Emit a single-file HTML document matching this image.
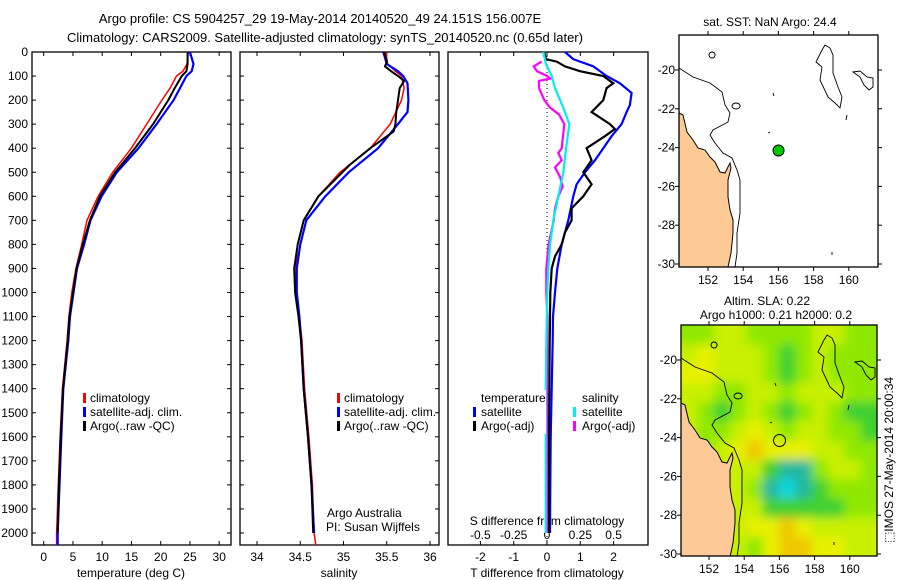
<!DOCTYPE html>
<html><head><meta charset="utf-8"><style>
body{margin:0;background:#fff;width:900px;height:580px;overflow:hidden}
svg{display:block;font-family:"Liberation Sans",sans-serif;font-size:12px}
</style></head><body>
<svg id="fig" width="900" height="580" viewBox="0 0 900 580" xmlns="http://www.w3.org/2000/svg">
<defs>
<filter id="blur" x="-5%" y="-5%" width="110%" height="110%"><feGaussianBlur stdDeviation="5"/></filter>
<clipPath id="m2clip"><rect x="681" y="325" width="196" height="231"/></clipPath>
</defs>
<text x="320" y="23" text-anchor="middle" font-size="13">Argo profile: CS 5904257_29 19-May-2014 20140520_49 24.151S 156.007E</text>
<text x="325" y="42" text-anchor="middle" font-size="13">Climatology: CARS2009. Satellite-adjusted climatology: synTS_20140520.nc (0.65d later)</text>
<g id="p1"></g>
<g id="p2"></g>
<g id="p3"></g>
<g id="m1"></g>
<g id="m2"></g>
<text transform="translate(893,460) rotate(-90)" text-anchor="middle" font-size="12">⬚IMOS 27-May-2014 20:00:34</text>
</svg>
<script>
// ---- data ----
const depthT = [0,50,80,100,150,200,300,400,500,600,700,800,900,1000,1100,1200,1400,1600,1800,2000,2050];
const tClim = [24.7,24.5,23.8,22.7,21.6,20.2,17.6,15.0,11.8,9.3,7.4,6.5,5.5,4.8,4.3,4.0,3.2,2.8,2.5,2.2,2.2];
const tSat  = [25.0,25.6,25.3,24.4,23.3,22.2,19.3,16.2,12.5,9.9,8.0,6.9,5.7,5.1,4.5,4.2,3.35,3.0,2.7,2.4,2.4];
const depthA = [0,50,80,100,150,200,300,400,500,600,700,800,900,1000,1100,1200,1400,1600,1800,2000];
const tArgo = [24.6,24.6,24.4,23.6,22.4,21.3,18.7,15.6,12.2,9.6,7.9,6.7,5.6,5.0,4.4,4.1,3.3,2.9,2.6,2.4];
const sClim = [35.49,35.51,35.60,35.67,35.70,35.67,35.54,35.31,34.96,34.71,34.54,34.47,34.45,34.45,34.49,34.52,34.55,34.60,34.64,34.66,34.68];
const depthSs = [0,50,80,100,130,200,250,300,400,500,600,700,800,900,1000,1100,1200,1400,1600,1800,2000];
const sSat = [35.46,35.50,35.63,35.69,35.74,35.75,35.74,35.63,35.40,35.06,34.79,34.57,34.50,34.46,34.46,34.49,34.51,34.54,34.59,34.63,34.66];
const depthSa = [0,40,60,80,100,120,150,200,250,300,330,400,470,510,600,700,800,900,1000,1100,1200,1400,1600,1800,2000];
const sArgo = [35.47,35.50,35.48,35.55,35.63,35.70,35.65,35.63,35.61,35.60,35.58,35.31,35.07,34.96,34.71,34.54,34.47,34.43,34.44,34.48,34.51,34.54,34.59,34.63,34.65];
const depthDT = [0,30,60,100,130,170,220,250,300,350,400,450,500,550,600,700,800,900,1000,1100,1200,1400,1600,1800,2000];
const dTSat = [0.54,0.79,1.39,1.79,2.19,2.54,2.49,2.39,2.24,1.94,1.69,1.44,1.14,0.89,0.79,0.64,0.44,0.31,0.24,0.18,0.17,0.14,0.11,0.10,0.09];
const depthDA = [0,30,40,60,80,100,130,150,200,250,300,320,350,400,450,500,550,600,650,700,750,800,850,900,1000,1200,1400,1600,1800,2000];
const dTArgo = [-0.09,-0.03,0.29,0.54,0.99,1.69,1.99,1.79,1.69,1.34,1.89,2.04,1.74,1.19,1.34,1.09,1.34,1.09,0.74,0.74,0.54,0.44,0.24,0.14,0.10,0.08,0.07,0.06,0.06,0.06];
const depthDS = [0,50,100,150,200,250,300,350,400,500,600,700,800,900,1000,1200,1400,2000];
const dSSat = [-0.028,-0.008,0.035,0.06,0.098,0.135,0.167,0.155,0.143,0.122,0.085,0.047,0.023,0.01,0.002,-0.005,-0.01,-0.01];
const depthDSA = [40,60,80,100,110,120,150,200,230,260,300,350,400,420,450,480,520,560,600,650,700,800,900,1000,1100,1400,2000];
const dSArgo = [-0.04,-0.10,-0.075,0.0,0.025,-0.06,-0.06,-0.02,0.02,0.09,0.13,0.12,0.11,0.085,0.11,0.06,0.098,0.118,0.085,0.06,0.05,0.012,-0.005,-0.005,0.003,0.0,0.0];
const depthTicks = [0,100,200,300,400,500,600,700,800,900,1000,1100,1200,1300,1400,1500,1600,1700,1800,1900,2000];
const tTicks = [0,5,10,15,20,25,30];
const sTicks = [34,34.5,35,35.5,36];
const sTickLabels = ["34","34.5","35","35.5","36"];
const dTTicks = [-2,-1,0,1,2];
const dSTicks = [-0.5,-0.25,0,0.25,0.5];
const dSTickLabels = ["-0.5","-0.25","0","0.25","0.5"];
const lonTicks = [152,154,156,158,160];
const latTicks = [-20,-22,-24,-26,-28,-30];
const argoLon = 156.007, argoLat = -24.151;
// SLA grid (rows top->bottom, cols west->east), level 0 (orange) .. 7 (cyan)
const slaGrid = [
 [4,4,3,3,4,4,4,4,3,3,4,4],
 [3,2,3,3,3,4,5,4,3,4,4,4],
 [2,2,3,3,3,4,5,4,3,4,4,4],
 [3,3,4,4,3,3,4,3,3,3,4,4],
 [3,4,5,4,3,4,5,4,3,4,5,5],
 [3,4,4,3,2,3,4,3,3,4,4,5],
 [3,4,3,2,1,2,2,2,3,3,4,4],
 [3,3,3,3,3,5,6,6,4,3,3,4],
 [3,3,3,3,4,6,7,6,5,4,4,4],
 [3,3,3,3,3,5,5,5,5,5,4,4],
 [3,3,3,3,2,2,1,2,3,3,3,3],
 [3,3,3,3,4,2,1,1,2,2,3,3]];
const slaColors = ["#f5a000","#f0c800","#e8f000","#c8f000","#90e800","#40d030","#20b8a0","#10d8e0"];

const NS="http://www.w3.org/2000/svg";
function mk(parent,tag,attrs,name){const e=document.createElementNS(NS,tag);for(const k in attrs)e.setAttribute(k,attrs[k]);


parent.appendChild(e);return e;}
function txt(parent,x,y,s,name,anchor){const t=mk(parent,'text',{x:x,y:y,'text-anchor':anchor||'start'},name);t.textContent=s;return t;}

const yTop=52, yBot=545;
const yD = d => yTop + d*0.2405;
function line(g,xs,ds,xf,color,w,name){
  let p=''; for(let i=0;i<xs.length;i++) p+=(i?'L':'M')+xf(xs[i]).toFixed(1)+','+yD(ds[i]).toFixed(1);
  mk(g,'path',{d:p,fill:'none',stroke:color,'stroke-width':w},name);
}
function frame(g,x0,x1,name){
  mk(g,'rect',{x:x0,y:yTop,width:x1-x0,height:yBot-yTop,fill:'none',stroke:'#000','stroke-width':1.3},name);
  for(const d of depthTicks){const y=yD(d);
    mk(g,'line',{x1:x0,x2:x0+4,y1:y,y2:y,stroke:'#000'},'y-tick');
    mk(g,'line',{x1:x1-4,x2:x1,y1:y,y2:y,stroke:'#000'},'y-tick');}
}
function xticks(g,ticks,labels,xf,ly){
  ticks.forEach((v,i)=>{const x=xf(v);
    mk(g,'line',{x1:x,x2:x,y1:yTop,y2:yTop+4,stroke:'#000'},'x-tick');
    mk(g,'line',{x1:x,x2:x,y1:yBot-4,y2:yBot,stroke:'#000'},'x-tick');
    if(ly) txt(g,x,ly,labels[i],'x-tick-label','middle');});
}
function legendBar(g,x,y,color,name){mk(g,'rect',{x:x,y:y-10,width:3,height:10,fill:color},name);}

// panel 1
const g1=document.getElementById('p1');
const xT=v=>43.7+5.85*v;
frame(g1,32,231,'temperature-axes');
depthTicks.forEach(d=>txt(g1,28,yD(d)+4,String(d),'depth-tick-label','end'));
xticks(g1,tTicks,tTicks.map(String),xT,561);
txt(g1,131,577,'temperature (deg C)','x-axis-title','middle');
line(g1,tClim,depthT,xT,'#f00',1.5,'climatology-line');
line(g1,tSat,depthT,xT,'#00f',2.2,'satellite-line');
line(g1,tArgo,depthA,xT,'#000',2,'argo-line');
legendBar(g1,83,403,'#f00','legend-climatology-swatch');txt(g1,90,402,'climatology','legend-climatology');
legendBar(g1,83,417,'#00f','legend-satellite-swatch');txt(g1,90,416,'satellite-adj. clim.','legend-satellite');
legendBar(g1,83,431,'#000','legend-argo-swatch');txt(g1,90,430,'Argo(..raw -QC)','legend-argo');

// panel 2
const g2=document.getElementById('p2');
const xS=v=>257+86.5*(v-34);
frame(g2,240,439,'salinity-axes');
xticks(g2,sTicks,sTickLabels,xS,561);
txt(g2,339,577,'salinity','x-axis-title','middle');
line(g2,sClim,depthT,xS,'#f00',1.5,'climatology-line');
line(g2,sSat,depthSs,xS,'#00f',2.2,'satellite-line');
line(g2,sArgo,depthSa,xS,'#000',2,'argo-line');
legendBar(g2,337,403,'#f00','legend-climatology-swatch');txt(g2,344,402,'climatology','legend-climatology');
legendBar(g2,337,417,'#00f','legend-satellite-swatch');txt(g2,344,416,'satellite-adj. clim.','legend-satellite');
legendBar(g2,337,431,'#000','legend-argo-swatch');txt(g2,344,430,'Argo(..raw -QC)','legend-argo');
txt(g2,327,517,'Argo Australia','credit-line-1');
txt(g2,326,531,'PI: Susan Wijffels','credit-line-2');

// panel 3
const g3=document.getElementById('p3');
const xDT=v=>547+33.3*v, xDS=v=>547+133.3*v;
mk(g3,'rect',{x:448,y:yTop,width:200,height:yBot-yTop,fill:'none',stroke:'#000','stroke-width':1.3},'difference-axes');
xticks(g3,dTTicks,dTTicks.map(String),xDT,561);
dSTicks.forEach((v,i)=>txt(g3,xDS(v),539,dSTickLabels[i],'s-tick-label','middle'));
txt(g3,547,525,'S difference from climatology','s-axis-title','middle');
txt(g3,547,577,'T difference from climatology','t-axis-title','middle');
mk(g3,'line',{x1:xDT(0),x2:xDT(0),y1:yTop,y2:yBot,stroke:'#000','stroke-dasharray':'1,3'},'zero-line');
line(g3,dTSat,depthDT,xDT,'#00f',2.2,'t-satellite-diff-line');
line(g3,dTArgo,depthDA,xDT,'#000',2.2,'t-argo-diff-line');
line(g3,dSArgo,depthDSA,xDS,'#f0f',2.2,'s-argo-diff-line');
line(g3,dSSat,depthDS,xDS,'#0ee',2.2,'s-satellite-diff-line');
mk(g3,'rect',{x:480,y:390,width:66,height:44,fill:'#fff'},'legend-bg');
mk(g3,'rect',{x:580,y:390,width:64,height:44,fill:'#fff'},'legend-bg');
txt(g3,481,402,'temperature','legend-temperature-heading');
legendBar(g3,473,417,'#00f','legend-t-sat-swatch');txt(g3,481,416,'satellite','legend-t-satellite');
legendBar(g3,473,431,'#000','legend-t-argo-swatch');txt(g3,481,430,'Argo(-adj)','legend-t-argo');
txt(g3,582,402,'salinity','legend-salinity-heading');
legendBar(g3,573,417,'#0ee','legend-s-sat-swatch');txt(g3,582,416,'satellite','legend-s-satellite');
legendBar(g3,573,431,'#f0f','legend-s-argo-swatch');txt(g3,582,430,'Argo(-adj)','legend-s-argo');

// maps
const coast="M679,113 L683,115 L687,132 L693,140 L698,148 L705,150 L710,157 L715,162 L720,172 L725,173 L730,163 L731,168 L728,180 L728,197 L730,210 L733,220 L733,233 L731,253 L728,267 L679,267 Z";
const contours=["M679,68 L693,77 L710,83 L722,92 L725,105 L730,113 L728,122 L713,130 L710,135 L715,143 L723,153 L732,158 L737,170 L740,180 L740,213 L737,233 L737,253 L735,267",
"M825,45 L830,48 L833,55 L833,73 L838,87 L842,97 L840,108 L835,103 L828,97 L820,80 L822,67 L816,62 L822,50 Z",
"M853,72 L860,71 L867,77 L873,78 L873,87 L869,90 L864,85 L860,77 Z",
"M712,52 a3,3 0 1,0 0.1,0 Z","M736,103 a4,3 0 1,0 0.1,0 Z","M773,93 l1,3","M770,132 l-2,1","M847,115 l-1,5","M832,252 l0,3"];
function mapAxes(g,x0,y0,w,h,lonf,latf,name){
  mk(g,'rect',{x:x0,y:y0,width:w,height:h,fill:'none',stroke:'#000','stroke-width':1.3},name);
  lonTicks.forEach(l=>{const x=lonf(l);
    mk(g,'line',{x1:x,x2:x,y1:y0-4,y2:y0,stroke:'#000'},'lon-tick');
    mk(g,'line',{x1:x,x2:x,y1:y0+h,y2:y0+h+4,stroke:'#000'},'lon-tick');
    txt(g,x,y0+h+17,String(l),'lon-tick-label','middle');});
  latTicks.forEach(l=>{const y=latf(l);
    mk(g,'line',{x1:x0-4,x2:x0,y1:y,y2:y,stroke:'#000'},'lat-tick');
    mk(g,'line',{x1:x0+w,x2:x0+w+4,y1:y,y2:y,stroke:'#000'},'lat-tick');
    txt(g,x0-4,y+4,String(l),'lat-tick-label','end');});
}
// map 1
const m1=document.getElementById('m1');
const lon1=l=>708+17.6*(l-152), lat1=l=>70+19.4*(-20-l);
txt(m1,770,26,'sat. SST: NaN Argo: 24.4','sst-map-title','middle');
mk(m1,'path',{d:coast,fill:'#fdca96',stroke:'#000','stroke-width':1},'land');
contours.forEach(c=>mk(m1,'path',{d:c,fill:'none',stroke:'#000','stroke-width':0.9},'bathymetry-contour'));
mk(m1,'circle',{cx:lon1(argoLon),cy:lat1(argoLat),r:5.5,fill:'#00c800',stroke:'#000','stroke-width':1},'argo-position-marker');
mapAxes(m1,679,35,199,232,lon1,lat1,'sst-map-frame');

// map 2
const m2=document.getElementById('m2');
const lon2=l=>709+17.6*(l-152), lat2=l=>360+19.4*(-20-l);
txt(m2,767,305,'Altim. SLA: 0.22','sla-map-title','middle');
txt(m2,776,319,'Argo h1000: 0.21 h2000: 0.2','sla-map-subtitle','middle');
const clipG=mk(m2,'g',{'clip-path':'url(#m2clip)'},'sla-heatmap-clip');
const heat=mk(clipG,'g',{filter:'url(#blur)'},'sla-heatmap');
const cw=196/12, ch=231/12;
slaGrid.forEach((row,r)=>row.forEach((v,c)=>{
  const x0=681+c*cw - (c===0?12:0), y0=325+r*ch - (r===0?12:0);
  const w=cw+0.6+(c===0?12:0)+(c===11?12:0), h=ch+0.6+(r===0?12:0)+(r===11?12:0);
  mk(heat,'rect',{x:x0.toFixed(2),y:y0.toFixed(2),width:w.toFixed(2),height:h.toFixed(2),fill:slaColors[v]},'sla-cell');
}));
const m2g=mk(clipG,'g',{transform:'translate(2,290)'},'sla-map-overlay');
mk(m2g,'path',{d:coast,fill:'#fdca96',stroke:'#000','stroke-width':1},'land');
contours.forEach(c=>mk(m2g,'path',{d:c,fill:'none',stroke:'#000','stroke-width':0.9},'bathymetry-contour'));
mk(m2,'circle',{cx:lon2(argoLon),cy:lat2(argoLat),r:6,fill:'none',stroke:'#000','stroke-width':1},'argo-position-marker');
mapAxes(m2,681,325,196,231,lon2,lat2,'sla-map-frame');
</script>
</body></html>
